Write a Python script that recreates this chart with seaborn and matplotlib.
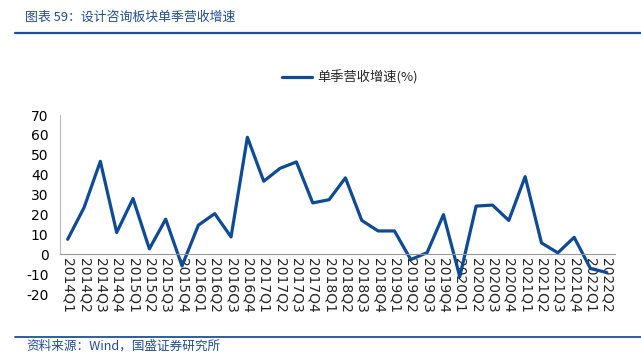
import matplotlib
matplotlib.use("Agg")
import matplotlib.pyplot as plt
from matplotlib.lines import Line2D
import seaborn as sns
import pandas as pd
import numpy as np

quarters = ["2014Q1", "2014Q2", "2014Q3", "2014Q4",
            "2015Q1", "2015Q2", "2015Q3", "2015Q4",
            "2016Q1", "2016Q2", "2016Q3", "2016Q4",
            "2017Q1", "2017Q2", "2017Q3", "2017Q4",
            "2018Q1", "2018Q2", "2018Q3", "2018Q4",
            "2019Q1", "2019Q2", "2019Q3", "2019Q4",
            "2020Q1", "2020Q2", "2020Q3", "2020Q4",
            "2021Q1", "2021Q2", "2021Q3", "2021Q4",
            "2022Q1", "2022Q2"]
growth = [7.5, 23.4, 46.7, 10.9,
          28.0, 2.7, 17.6, -5.9,
          14.6, 20.4, 8.7, 58.8,
          36.7, 43.2, 46.4, 25.8,
          27.4, 38.4, 17.0, 11.7,
          11.7, -2.7, 0.8, 19.9,
          -11.3, 24.2, 24.7, 17.0,
          39.0, 5.7, 0.7, 8.5,
          -7.2, -9.2]
series_name = "单季营收增速(%)"
y_ticks = [-20, -10, 0, 10, 20, 30, 40, 50, 60, 70]
title = "图表 59：设计咨询板块单季营收增速"
source = "资料来源：Wind，国盛证券研究所"

sns.set_style("white")
plt.rcParams["font.family"] = ["DejaVu Sans", "Noto Sans CJK SC"]

LINE = "#0D4A98"
BLUE_TXT = "#1F4E9C"

df = pd.DataFrame({"idx": np.arange(len(quarters)), "val": growth})

fig = plt.figure(figsize=(6.41, 3.56), dpi=100)
ax = fig.add_axes([59.5 / 641, 1 - 294 / 356, (615 - 59.5) / 641, (294 - 115) / 356])

sns.lineplot(data=df, x="idx", y="val", ax=ax, color=LINE, linewidth=2.3,
             legend=False)

ax.set_xlim(-0.5, len(quarters) - 0.5)
ax.set_ylim(-20, 70)
ax.set_yticks(y_ticks)
ax.set_yticklabels([str(v) for v in y_ticks], fontsize=10, color="#000000")
ax.set_xticks(np.arange(len(quarters)))
ax.set_xticklabels(quarters, fontsize=10, color="#000000")
ax.set_xticks(np.arange(len(quarters) + 1) - 0.5, minor=True)
ax.tick_params(axis="x", which="major", length=0, pad=3, labelrotation=270)
ax.tick_params(axis="x", which="minor", length=4, direction="in",
               color="#999999", width=0.8)
ax.tick_params(axis="y", length=0, pad=8)
for lab in ax.get_xticklabels():
    lab.set_rotation(270)
    lab.set_va("top")
    lab.set_ha("center")
    lab.set_rotation_mode("default")
ax.set_xlabel("")
ax.set_ylabel("")

for s in ["top", "right"]:
    ax.spines[s].set_visible(False)
ax.spines["bottom"].set_position(("data", 0))
ax.spines["bottom"].set_color("#999999")
ax.spines["bottom"].set_linewidth(0.8)
ax.spines["left"].set_color("#BBBBBB")
ax.spines["left"].set_linewidth(0.8)
ax.spines["left"].set_bounds(0, 70)
ax.grid(False)

handle = Line2D([0], [0], color=LINE, linewidth=2.3)
fig.legend([handle], [series_name], loc="center",
           bbox_to_anchor=(350 / 641, 1 - 77 / 356), frameon=False,
           handlelength=2.3, handletextpad=0.4,
           prop={"family": ["Noto Sans CJK SC", "DejaVu Sans"], "size": 9.5})

fig.text(25 / 641, 1 - 17 / 356, title, fontsize=9.3, color=BLUE_TXT,
         style="italic", va="center", ha="left",
         family=["Noto Sans CJK SC", "DejaVu Sans"])
fig.add_artist(Line2D([15 / 641, 1.0], [1 - 33 / 356, 1 - 33 / 356],
                      color=BLUE_TXT, linewidth=1.6, transform=fig.transFigure))
fig.add_artist(Line2D([15 / 641, 1.0], [1 - 336.5 / 356, 1 - 336.5 / 356],
                      color=BLUE_TXT, linewidth=1.3, transform=fig.transFigure))
fig.text(26 / 641, 1 - 346 / 356, source, fontsize=9.1, color=BLUE_TXT,
         style="italic", va="center", ha="left",
         family=["Noto Sans CJK SC", "DejaVu Sans"])

fig.savefig("out.png", dpi=100)
